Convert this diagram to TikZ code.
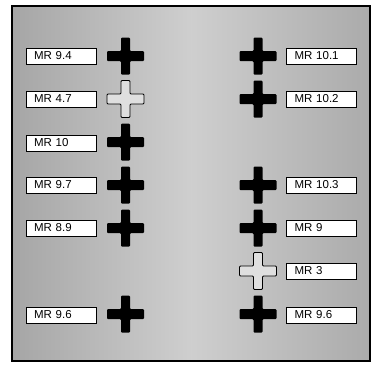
\documentclass[tikz,border=0pt]{standalone}
\usepackage{fontspec}
\setmainfont{Liberation Sans}
\begin{document}
\begin{tikzpicture}[x=1pt,y=-1pt,
  lbl/.style={draw=black,line width=0.9pt,fill=white,minimum width=70pt,minimum height=16pt,
    inner xsep=8pt,inner ysep=0pt,text width=54pt,align=left,font=\fontsize{11.5}{12}\selectfont},
  fullcross/.style={fill=black},
  opencross/.style={fill=gray!25,draw=black,line width=0.8pt}]
\useasboundingbox (0,0) rectangle (372,365);
\fill[white] (0,0) rectangle (372,365);
\shade[left color=gray!70,right color=gray!66,middle color=gray!38] (12,6) rectangle (370,361);
\draw[line width=1.1pt] (12,6) rectangle (370,361);
\newcommand{\crossat}[3]{%
  \path[#3,rounded corners=1pt] (#1-4.5,#2-18.5) -- (#1+4.5,#2-18.5) -- (#1+4.5,#2-5) -- (#1+18.5,#2-5)
   -- (#1+18.5,#2+5) -- (#1+4.5,#2+5) -- (#1+4.5,#2+18.5) -- (#1-4.5,#2+18.5) -- (#1-4.5,#2+5)
   -- (#1-18.5,#2+5) -- (#1-18.5,#2-5) -- (#1-4.5,#2-5) -- cycle;}
% left column
\node[lbl] (l1) at (61,56) {MR 9.4};
\node[lbl] (l2) at (61,99) {MR 4.7};
\node[lbl] (l3) at (61,143) {MR 10};
\node[lbl] (l4) at (61,185) {MR 9.7};
\node[lbl] (l5) at (61,228) {MR 8.9};
\node[lbl] (l6) at (61,315) {MR 9.6};
\crossat{125.5}{56}{fullcross}
\crossat{125.5}{99}{opencross}
\crossat{125.5}{142}{fullcross}
\crossat{125.5}{185}{fullcross}
\crossat{125.5}{228}{fullcross}
\crossat{125.5}{314}{fullcross}
% right column
\node[lbl] (r1) at (321.5,56) {MR 10.1};
\node[lbl] (r2) at (321.5,99) {MR 10.2};
\node[lbl] (r3) at (321.5,185) {MR 10.3};
\node[lbl] (r4) at (321.5,228) {MR 9};
\node[lbl] (r5) at (321.5,271) {MR 3};
\node[lbl] (r6) at (321.5,315) {MR 9.6};
\crossat{258}{56}{fullcross}
\crossat{258}{99}{fullcross}
\crossat{258}{185}{fullcross}
\crossat{258}{228}{fullcross}
\crossat{258}{271}{opencross}
\crossat{258}{314}{fullcross}
\end{tikzpicture}
\end{document}
